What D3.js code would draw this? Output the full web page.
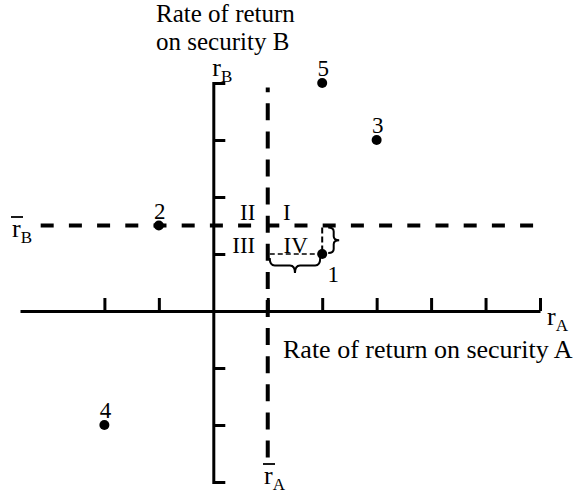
<!DOCTYPE html>
<html>
<head>
<meta charset="utf-8">
<script src="https://cdn.jsdelivr.net/npm/d3@7/dist/d3.min.js"></script>
<style>
  html, body { margin: 0; padding: 0; background: #fff; }
  svg { display: block; }
  text { font-family: "Liberation Serif", "Times New Roman", serif; fill: #000; }
</style>
</head>
<body>
<script>
// ---- data ----
const pointLabels = ["1", "2", "3", "4", "5"];
const returnsA = [2, -1, 3, -2, 2];
const returnsB = [1, 1.5, 3, -2, 4];
const meanA = 1;
const meanB = 1.5;
const xTicks = [-2, -1, 1, 2, 3, 4, 5, 6];
const yTicks = [-3, -2, -1, 1, 2, 3, 4];
const quadrantLabels = ["I", "II", "III", "IV"];
const titleB = ["Rate of return", "on security B"];
const titleA = "Rate of return on security A";

// ---- layout ----
const W = 582, H = 497;
const svg = d3.select("body").append("svg").attr("width", W).attr("height", H);

const x = d3.scaleLinear().domain([-3.55, 6]).range([20, 540]);
const y = d3.scaleLinear().domain([-3, 4]).range([482, 83]);

// x axis (ticks pointing up)
const gx = svg.append("g").attr("transform", `translate(0,${y(0)})`)
  .call(d3.axisTop(x).tickValues(xTicks).tickSize(13).tickSizeOuter(0).tickFormat(""));
gx.select(".domain").attr("stroke-width", 3);
gx.selectAll(".tick line").attr("stroke-width", 3);

// y axis (ticks pointing right)
const gy = svg.append("g").attr("transform", `translate(${x(0)},0)`)
  .call(d3.axisRight(y).tickValues(yTicks).tickSize(12).tickSizeOuter(0).tickFormat(""));
gy.select(".domain").attr("stroke-width", 3).attr("stroke-linecap", "square");
gy.selectAll(".tick line").attr("stroke-width", 3);

// mean lines (thick dashed)
svg.append("line")
  .attr("x1", x(meanA)).attr("x2", x(meanA))
  .attr("y1", y(-2.57)).attr("y2", y(3.92))
  .attr("stroke", "#000").attr("stroke-width", 4)
  .attr("stroke-dasharray", "17,11.1");
svg.append("line")
  .attr("x1", x(-3.17)).attr("x2", x(5.93))
  .attr("y1", y(meanB)).attr("y2", y(meanB))
  .attr("stroke", "#000").attr("stroke-width", 4)
  .attr("stroke-dasharray", "13,15.2");

// deviation guides for point 1
const p1a = returnsA[0], p1b = returnsB[0];
svg.append("line")
  .attr("x1", x(meanA) + 2).attr("x2", x(p1a))
  .attr("y1", y(p1b)).attr("y2", y(p1b))
  .attr("stroke", "#000").attr("stroke-width", 1.6)
  .attr("stroke-dasharray", "5,3");
svg.append("line")
  .attr("x1", x(p1a)).attr("x2", x(p1a))
  .attr("y1", y(meanB) + 2).attr("y2", y(p1b))
  .attr("stroke", "#000").attr("stroke-width", 2)
  .attr("stroke-dasharray", "6,3");

// curly braces
function braceH(x1, x2, yTop, depth) {
  const m = (x1 + x2) / 2, h = depth / 2;
  const p = d3.path();
  p.moveTo(x1, yTop);
  p.quadraticCurveTo(x1, yTop + h, x1 + 5, yTop + h);
  p.lineTo(m - 5, yTop + h);
  p.quadraticCurveTo(m, yTop + h, m, yTop + depth);
  p.quadraticCurveTo(m, yTop + h, m + 5, yTop + h);
  p.lineTo(x2 - 5, yTop + h);
  p.quadraticCurveTo(x2, yTop + h, x2, yTop);
  return p.toString();
}
function braceV(xLeft, y1, y2, depth) {
  const m = (y1 + y2) / 2, h = depth / 2;
  const p = d3.path();
  p.moveTo(xLeft, y1);
  p.quadraticCurveTo(xLeft + h, y1, xLeft + h, y1 + 4);
  p.lineTo(xLeft + h, m - 4);
  p.quadraticCurveTo(xLeft + h, m, xLeft + depth, m);
  p.quadraticCurveTo(xLeft + h, m, xLeft + h, m + 4);
  p.lineTo(xLeft + h, y2 - 4);
  p.quadraticCurveTo(xLeft + h, y2, xLeft, y2);
  return p.toString();
}
svg.append("path").attr("d", braceH(x(meanA) + 2, x(p1a) - 2, y(p1b) + 4, 15))
  .attr("fill", "none").attr("stroke", "#000").attr("stroke-width", 2);
svg.append("path").attr("d", braceV(x(p1a) + 6, y(meanB) + 2, y(p1b) - 1, 11))
  .attr("fill", "none").attr("stroke", "#000").attr("stroke-width", 2);

// points
const pts = pointLabels.map((l, i) => ({ label: l, a: returnsA[i], b: returnsB[i] }));
svg.selectAll("circle.pt").data(pts).enter().append("circle")
  .attr("class", "pt")
  .attr("cx", d => x(d.a)).attr("cy", d => y(d.b)).attr("r", 5).attr("fill", "#000");
svg.selectAll("text.pl").data(pts).enter().append("text")
  .attr("class", "pl")
  .attr("x", d => x(d.a) + (d.label === "1" ? 11 : 1))
  .attr("y", d => y(d.b) + (d.label === "1" ? 28 : -7))
  .attr("text-anchor", "middle")
  .attr("font-size", 23)
  .text(d => d.label);

// quadrant labels
const qx = [x(meanA) + 19, x(meanA) - 20, x(meanA) - 24, x(meanA) + 28];
const qy = [y(meanB) - 6, y(meanB) - 6, y(p1b) - 1, y(p1b) - 1];
svg.selectAll("text.q").data(quadrantLabels).enter().append("text")
  .attr("class", "q")
  .attr("x", (d, i) => qx[i]).attr("y", (d, i) => qy[i])
  .attr("text-anchor", "middle").attr("font-size", 23)
  .text(d => d);

// titles
const t = svg.append("text").attr("font-size", 25);
t.selectAll("tspan").data(titleB).enter().append("tspan")
  .attr("x", 156).attr("y", (d, i) => 22 + i * 28).text(d => d);
svg.append("text").attr("x", 283).attr("y", 358).attr("font-size", 26).text(titleA);

// variable labels r_B, r_A
function rLabel(px, py, sub, bar) {
  const g = svg.append("g");
  const tx = g.append("text").attr("x", px).attr("y", py).attr("font-size", 26);
  tx.append("tspan").text("r");
  tx.append("tspan").attr("font-size", 17).attr("dy", 6).text(sub);
  if (bar) {
    g.append("line").attr("x1", px - 1).attr("x2", px + 11)
      .attr("y1", py - 20).attr("y2", py - 20)
      .attr("stroke", "#000").attr("stroke-width", 1.8);
  }
}
rLabel(x(0) - 1, 76, "B", false);
rLabel(12, 237, "B", true);
rLabel(547, 325, "A", false);
rLabel(264, 484, "A", true);
</script>
</body>
</html>
